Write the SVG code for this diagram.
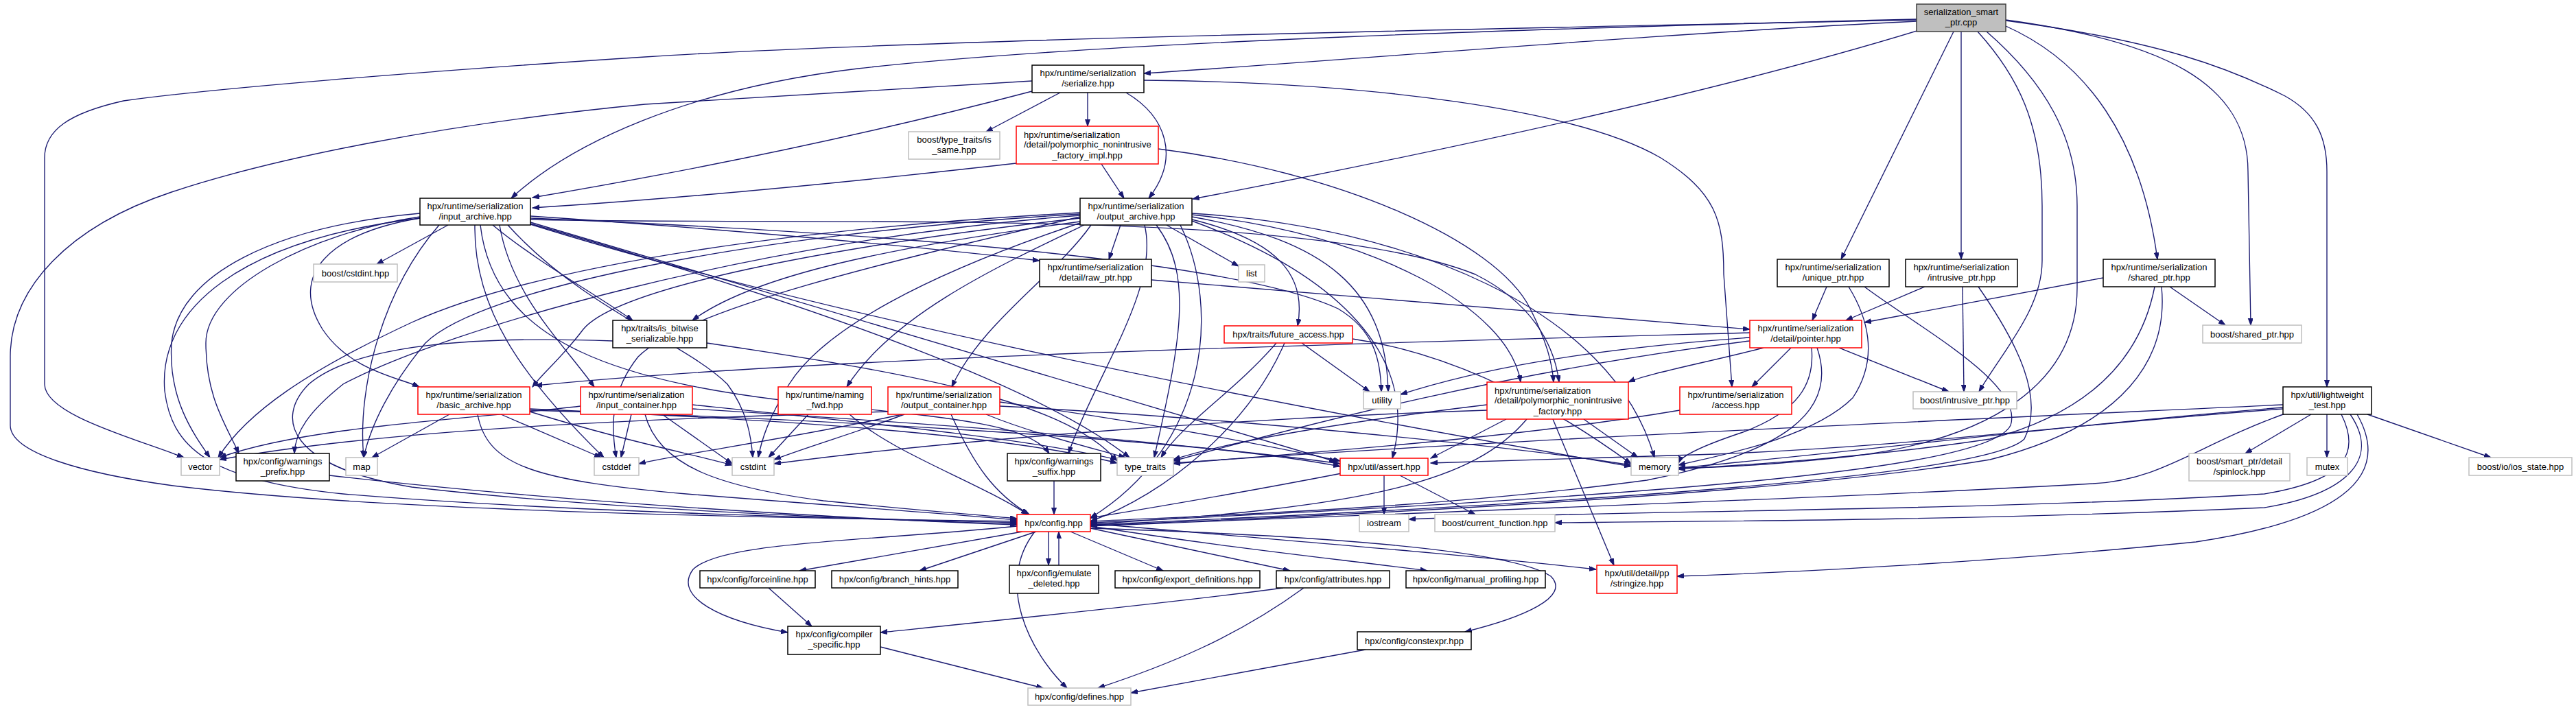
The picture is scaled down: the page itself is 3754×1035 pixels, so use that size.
<svg xmlns="http://www.w3.org/2000/svg" width="3754" height="1035" viewBox="0 0 3754 1035">
<style>
.n rect{fill:#fff;stroke:#000;stroke-width:1.5}
.r rect{stroke:#ff0000}
.g rect{stroke:#bfbfbf}
.root rect{fill:#bfbfbf;stroke:#404040}
text{font-family:"Liberation Sans",Arial,Helvetica,sans-serif;font-size:13px;text-anchor:middle;fill:#000}
text.l{text-anchor:start}
#edges path{fill:none;stroke:#191970;stroke-width:1.35;marker-end:url(#a)}
</style>
<defs>
<marker id="a" markerWidth="11" markerHeight="8" refX="10" refY="3.5" orient="auto" markerUnits="userSpaceOnUse">
<path d="M0,0 L10,3.5 L0,7 z" fill="#191970" stroke="#191970" stroke-width="1"/>
</marker>
</defs>
<rect width="3754" height="1035" fill="#fff"/>
<g id="edges">
<path d="M2793,31 C2400,50 2000,85 1667,107"/>
<path d="M2793,28 C2300,40 1600,60 1250,100 C1000,130 830,210 745,289"/>
<path d="M2797,44 C2450,150 2000,240 1738,290"/>
<path d="M2793,29 C2000,45 1300,60 940,83 C600,105 300,130 180,147 C100,165 65,190 65,230 L65,560 C65,605 200,640 268,667"/>
<path d="M2847,46 L2683,378"/>
<path d="M2858,46 L2858,378"/>
<path d="M2923,38 C3040,90 3120,200 3144,378"/>
<path d="M2923,29 C3150,60 3276,120 3276,250 L3280,474"/>
<path d="M2923,30 C3150,60 3250,100 3330,140 C3375,165 3391,200 3391,250 L3391,564"/>
<path d="M2882,46 C2940,110 2976,180 2976,300 L2976,380 C2976,450 2920,510 2884,571"/>
<path d="M2895,46 C2980,120 3027,200 3027,300 L3027,420 C3027,560 2900,640 2700,665 C2560,680 2480,682 2446,682"/>
<path d="M1504,133 C1250,200 1000,250 776,288"/>
<path d="M1585,135 L1585,184"/>
<path d="M1545,135 L1437,192"/>
<path d="M1641,135 C1700,170 1720,230 1674,289"/>
<path d="M1667,117 C2000,120 2300,160 2420,230 C2500,280 2512,320 2512,400 L2524,564"/>
<path d="M1504,118 L940,152 C650,180 400,230 250,280 C100,330 15,420 15,520 L15,620 C15,660 120,690 252,708 C500,738 900,752 1482,760"/>
<path d="M1481,238 C1200,270 950,292 776,303"/>
<path d="M1605,239 L1638,289"/>
<path d="M1688,217 C1950,250 2180,350 2230,450 C2255,500 2262,530 2264,557"/>
<path d="M653,328 L549,385"/>
<path d="M773,315 C1000,330 1300,355 1515,380"/>
<path d="M718,328 C780,380 870,430 922,467"/>
<path d="M612,318 C480,340 420,400 470,480 C510,540 580,550 611,564"/>
<path d="M728,328 C745,430 820,500 866,564"/>
<path d="M773,320 C1200,330 1900,300 2150,400 C2230,440 2265,500 2272,557"/>
<path d="M612,311 C400,330 260,400 250,500 C245,580 280,630 306,667"/>
<path d="M640,328 C560,420 520,560 530,667"/>
<path d="M612,316 C450,340 300,420 300,500 C300,580 330,620 348,661"/>
<path d="M700,328 C720,500 900,560 1200,590 C1400,610 1500,620 1529,661"/>
<path d="M692,328 C690,450 760,550 880,667"/>
<path d="M740,328 C850,450 1000,500 1060,560 C1090,600 1095,640 1097,667"/>
<path d="M773,326 C1100,420 1500,550 1646,667"/>
<path d="M773,318 C1300,340 1800,380 1950,450 C2000,480 2012,520 2013,571"/>
<path d="M773,324 C1200,450 1700,600 1947,673"/>
<path d="M773,327 C1200,460 1800,580 2377,680"/>
<path d="M612,318 C350,350 230,450 240,570 C250,650 300,700 500,720 C800,745 1200,755 1482,762"/>
<path d="M1633,328 L1616,378"/>
<path d="M1700,328 L1805,388"/>
<path d="M1737,320 C1860,350 1905,400 1891,475"/>
<path d="M1574,323 C1300,360 1100,400 1009,467"/>
<path d="M1574,318 C1200,360 900,420 850,480 C820,520 790,545 776,564"/>
<path d="M1590,328 C1540,400 1430,470 1387,564"/>
<path d="M1580,328 C1450,390 1300,460 1234,564"/>
<path d="M1737,313 C2000,340 2200,450 2216,557"/>
<path d="M1737,316 C1930,350 2020,420 2023,571"/>
<path d="M1737,322 C1950,400 2070,520 2029,668"/>
<path d="M1737,311 C2050,330 2350,450 2411,667"/>
<path d="M1685,328 C1740,400 1720,500 1682,667"/>
<path d="M1668,328 C1690,420 1600,540 1557,661"/>
<path d="M1720,328 C1780,450 1760,650 1589,755"/>
<path d="M1574,310 C1200,330 800,380 600,470 C450,540 360,600 318,667"/>
<path d="M1574,312 C1100,340 700,420 620,500 C570,560 540,620 530,667"/>
<path d="M1574,314 C1100,350 650,480 500,560 C450,600 430,630 429,661"/>
<path d="M1574,316 C1300,380 1000,450 930,520 C890,570 890,620 898,667"/>
<path d="M1574,325 C1350,400 1200,480 1150,560 C1120,610 1110,640 1105,667"/>
<path d="M1678,408 L2550,480"/>
<path d="M1030,500 C1300,540 1550,580 1628,672"/>
<path d="M893,497 C700,490 520,500 450,560 C400,610 420,680 600,710 C900,745 1300,758 1482,764"/>
<path d="M1897,500 L1996,571"/>
<path d="M1860,500 C1800,570 1720,620 1692,667"/>
<path d="M1872,500 C1820,620 1700,720 1589,760"/>
<path d="M1971,494 C2150,520 2300,620 2377,676"/>
<path d="M655,604 L542,667"/>
<path d="M730,604 L876,667"/>
<path d="M772,600 C900,640 1000,660 1067,678"/>
<path d="M772,596 C1100,610 1450,630 1628,675"/>
<path d="M772,598 C1200,610 1700,640 1953,676"/>
<path d="M696,604 C710,680 780,700 1000,720 C1250,740 1400,750 1482,758"/>
<path d="M920,604 L905,667"/>
<path d="M965,604 L1067,676"/>
<path d="M846,592 C700,610 450,620 320,667"/>
<path d="M940,604 C960,680 1050,710 1200,730 C1350,745 1420,750 1482,756"/>
<path d="M1009,590 C1300,620 1500,640 1628,670"/>
<path d="M1009,596 C1400,620 1800,650 1953,680"/>
<path d="M1178,604 L1120,667"/>
<path d="M1238,604 C1300,660 1420,700 1498,750"/>
<path d="M1318,604 C1250,630 1180,650 1128,670"/>
<path d="M1315,604 C1150,640 1000,660 931,676"/>
<path d="M1294,600 C1000,610 600,620 320,670"/>
<path d="M1386,604 C1420,680 1450,720 1500,750"/>
<path d="M1437,604 C1500,630 1580,650 1640,667"/>
<path d="M1457,586 C1700,620 1850,650 1953,672"/>
<path d="M1457,592 C1800,610 2200,650 2377,678"/>
<path d="M2570,507 C2480,530 2400,545 2373,557"/>
<path d="M2610,507 L2553,564"/>
<path d="M2680,507 L2840,571"/>
<path d="M2640,507 C2645,560 2620,600 2540,630 C2480,650 2450,665 2446,675"/>
<path d="M2648,507 C2680,600 2600,660 2400,700 C2100,740 1800,750 1589,760"/>
<path d="M2550,492 C2300,510 2150,540 2041,575"/>
<path d="M2550,485 C2000,500 1200,520 780,562"/>
<path d="M2550,497 C2200,540 1900,620 1710,672"/>
<path d="M2195,611 L2085,668"/>
<path d="M2308,611 L2387,667"/>
<path d="M2263,611 L2352,824"/>
<path d="M2225,611 C2150,700 2000,740 1589,764"/>
<path d="M2167,590 C2000,610 1800,640 1710,670"/>
<path d="M2167,598 C1800,610 1400,640 1128,676"/>
<path d="M2448,598 C2200,640 1900,660 1710,676"/>
<path d="M2662,418 L2641,467"/>
<path d="M2694,418 C2720,460 2740,520 2700,580 C2640,640 2500,665 2446,678"/>
<path d="M2717,418 C2800,480 2950,560 2930,620 C2900,680 2500,720 1589,762"/>
<path d="M2805,418 L2690,467"/>
<path d="M2860,418 L2862,571"/>
<path d="M2883,418 C2940,500 2980,580 2950,640 C2900,690 2400,730 1589,765"/>
<path d="M3065,405 L2717,470"/>
<path d="M3162,418 L3243,474"/>
<path d="M3140,418 C3120,520 3050,600 2900,640 C2700,670 2500,680 2446,684"/>
<path d="M3150,418 C3160,520 3100,620 2900,670 C2600,720 2000,750 1589,766"/>
<path d="M3368,604 L3272,661"/>
<path d="M3391,604 L3391,667"/>
<path d="M3450,604 L3630,667"/>
<path d="M3327,590 C2900,610 2200,640 1710,675"/>
<path d="M3327,594 C3000,620 2700,660 2446,682"/>
<path d="M3327,596 C3000,620 2800,650 2500,662 C2300,668 2150,672 2085,675"/>
<path d="M3330,603 C3200,650 3150,700 3050,705 C2700,725 2000,750 1589,767"/>
<path d="M3412,604 C3440,660 3420,700 3300,720 C2900,745 2300,745 2053,757"/>
<path d="M3425,604 C3470,670 3420,720 3300,740 C2900,758 2500,760 2266,762"/>
<path d="M3435,604 C3490,700 3400,760 3200,790 C2900,820 2600,835 2444,840"/>
<path d="M2017,693 L2017,750"/>
<path d="M2040,693 L2150,750"/>
<path d="M1955,690 C1800,720 1650,745 1589,755"/>
<path d="M480,693 C800,730 1200,755 1482,765"/>
<path d="M1536,701 L1536,750"/>
<path d="M1490,775 L1165,832"/>
<path d="M1510,775 L1340,832"/>
<path d="M1528,775 L1528,824"/>
<path d="M1543,824 L1543,775"/>
<path d="M1560,775 L1695,832"/>
<path d="M1589,770 L1880,832"/>
<path d="M1589,767 C1800,800 1950,815 2080,832"/>
<path d="M1589,763 C1900,790 2150,810 2326,830"/>
<path d="M1482,767 C1250,790 1050,790 1010,830 C980,870 1050,905 1148,922"/>
<path d="M1508,775 C1450,850 1500,950 1555,1003"/>
<path d="M1589,770 C1900,780 2200,800 2260,840 C2290,870 2220,900 2135,921"/>
<path d="M1120,857 L1183,913"/>
<path d="M1870,857 C1700,880 1400,910 1283,922"/>
<path d="M1900,857 C1800,930 1700,970 1600,1003"/>
<path d="M1283,943 L1520,1003"/>
<path d="M1990,947 L1648,1010"/>
</g>
<g id="n_root" class="n root"><rect x="2793" y="6" width="130" height="40"/><text x="2858" y="22">serialization_smart</text><text x="2858" y="36.5">_ptr.cpp</text></g>
<g id="n_serialize" class="n"><rect x="1504" y="95" width="163" height="40"/><text x="1585.5" y="111">hpx/runtime/serialization</text><text x="1585.5" y="125.5">/serialize.hpp</text></g>
<g id="n_is_same" class="n g"><rect x="1324" y="192" width="133" height="40"/><text x="1390.5" y="208">boost/type_traits/is</text><text x="1390.5" y="222.5">_same.hpp</text></g>
<g id="n_pnf_impl" class="n r"><rect x="1481" y="184" width="207" height="55"/><text class="l" x="1492" y="201">hpx/runtime/serialization</text><text class="l" x="1492" y="215">/detail/polymorphic_nonintrusive</text><text x="1584.5" y="230.5">_factory_impl.hpp</text></g>
<g id="n_input_archive" class="n"><rect x="612" y="289" width="161" height="39"/><text x="692.5" y="305">hpx/runtime/serialization</text><text x="692.5" y="319.5">/input_archive.hpp</text></g>
<g id="n_output_archive" class="n"><rect x="1574" y="289" width="163" height="39"/><text x="1655.5" y="305">hpx/runtime/serialization</text><text x="1655.5" y="319.5">/output_archive.hpp</text></g>
<g id="n_boost_cstdint" class="n g"><rect x="457" y="385" width="122" height="26"/><text x="518" y="402.5">boost/cstdint.hpp</text></g>
<g id="n_raw_ptr" class="n"><rect x="1515" y="378" width="163" height="40"/><text x="1596.5" y="394">hpx/runtime/serialization</text><text x="1596.5" y="408.5">/detail/raw_ptr.hpp</text></g>
<g id="n_list" class="n g"><rect x="1805" y="386" width="38" height="25"/><text x="1824" y="403">list</text></g>
<g id="n_unique_ptr" class="n"><rect x="2590" y="378" width="163" height="40"/><text x="2671.5" y="394">hpx/runtime/serialization</text><text x="2671.5" y="408.5">/unique_ptr.hpp</text></g>
<g id="n_intrusive_ptr" class="n"><rect x="2777" y="378" width="163" height="40"/><text x="2858.5" y="394">hpx/runtime/serialization</text><text x="2858.5" y="408.5">/intrusive_ptr.hpp</text></g>
<g id="n_shared_ptr" class="n"><rect x="3065" y="378" width="163" height="40"/><text x="3146.5" y="394">hpx/runtime/serialization</text><text x="3146.5" y="408.5">/shared_ptr.hpp</text></g>
<g id="n_is_bitwise" class="n"><rect x="893" y="467" width="137" height="40"/><text x="961.5" y="483">hpx/traits/is_bitwise</text><text x="961.5" y="497.5">_serializable.hpp</text></g>
<g id="n_future_access" class="n r"><rect x="1784" y="475" width="187" height="25"/><text x="1877.5" y="492">hpx/traits/future_access.hpp</text></g>
<g id="n_pointer" class="n r"><rect x="2550" y="467" width="163" height="40"/><text x="2631.5" y="483">hpx/runtime/serialization</text><text x="2631.5" y="497.5">/detail/pointer.hpp</text></g>
<g id="n_boost_shared_ptr" class="n g"><rect x="3210" y="474" width="144" height="26"/><text x="3282" y="491.5">boost/shared_ptr.hpp</text></g>
<g id="n_basic_archive" class="n r"><rect x="609" y="564" width="163" height="40"/><text x="690.5" y="580">hpx/runtime/serialization</text><text x="690.5" y="594.5">/basic_archive.hpp</text></g>
<g id="n_input_container" class="n r"><rect x="846" y="564" width="163" height="40"/><text x="927.5" y="580">hpx/runtime/serialization</text><text x="927.5" y="594.5">/input_container.hpp</text></g>
<g id="n_naming_fwd" class="n r"><rect x="1134" y="564" width="136" height="40"/><text x="1202" y="580">hpx/runtime/naming</text><text x="1202" y="594.5">_fwd.hpp</text></g>
<g id="n_output_container" class="n r"><rect x="1294" y="564" width="163" height="40"/><text x="1375.5" y="580">hpx/runtime/serialization</text><text x="1375.5" y="594.5">/output_container.hpp</text></g>
<g id="n_utility" class="n g"><rect x="1987" y="571" width="54" height="25"/><text x="2014" y="588">utility</text></g>
<g id="n_pnf" class="n r"><rect x="2167" y="557" width="206" height="54"/><text class="l" x="2178" y="574">hpx/runtime/serialization</text><text class="l" x="2178" y="588">/detail/polymorphic_nonintrusive</text><text x="2270" y="603.5">_factory.hpp</text></g>
<g id="n_access" class="n r"><rect x="2448" y="564" width="163" height="40"/><text x="2529.5" y="580">hpx/runtime/serialization</text><text x="2529.5" y="594.5">/access.hpp</text></g>
<g id="n_boost_intrusive_ptr" class="n g"><rect x="2788" y="571" width="151" height="25"/><text x="2863.5" y="588">boost/intrusive_ptr.hpp</text></g>
<g id="n_lightweight_test" class="n"><rect x="3327" y="564" width="129" height="40"/><text x="3391.5" y="580">hpx/util/lightweight</text><text x="3391.5" y="594.5">_test.hpp</text></g>
<g id="n_vector" class="n g"><rect x="264" y="667" width="56" height="26"/><text x="292" y="684.5">vector</text></g>
<g id="n_warnings_prefix" class="n"><rect x="344" y="661" width="136" height="40"/><text x="412" y="677">hpx/config/warnings</text><text x="412" y="691.5">_prefix.hpp</text></g>
<g id="n_map" class="n g"><rect x="504" y="667" width="46" height="26"/><text x="527" y="684.5">map</text></g>
<g id="n_cstddef" class="n g"><rect x="866" y="667" width="65" height="26"/><text x="898.5" y="684.5">cstddef</text></g>
<g id="n_cstdint" class="n g"><rect x="1067" y="667" width="61" height="26"/><text x="1097.5" y="684.5">cstdint</text></g>
<g id="n_warnings_suffix" class="n"><rect x="1468" y="661" width="136" height="40"/><text x="1536" y="677">hpx/config/warnings</text><text x="1536" y="691.5">_suffix.hpp</text></g>
<g id="n_type_traits" class="n g"><rect x="1628" y="667" width="82" height="26"/><text x="1669" y="684.5">type_traits</text></g>
<g id="n_assert" class="n r"><rect x="1953" y="668" width="128" height="25"/><text x="2017" y="685">hpx/util/assert.hpp</text></g>
<g id="n_memory" class="n g"><rect x="2377" y="667" width="69" height="26"/><text x="2411.5" y="684.5">memory</text></g>
<g id="n_spinlock" class="n g"><rect x="3190" y="661" width="147" height="40"/><text x="3263.5" y="677">boost/smart_ptr/detail</text><text x="3263.5" y="691.5">/spinlock.hpp</text></g>
<g id="n_mutex" class="n g"><rect x="3362" y="667" width="59" height="26"/><text x="3391.5" y="684.5">mutex</text></g>
<g id="n_ios_state" class="n g"><rect x="3598" y="667" width="150" height="26"/><text x="3673" y="684.5">boost/io/ios_state.hpp</text></g>
<g id="n_config" class="n r"><rect x="1482" y="750" width="107" height="25"/><text x="1535.5" y="767">hpx/config.hpp</text></g>
<g id="n_iostream" class="n g"><rect x="1981" y="750" width="72" height="25"/><text x="2017" y="767">iostream</text></g>
<g id="n_current_function" class="n g"><rect x="2091" y="750" width="175" height="25"/><text x="2178.5" y="767">boost/current_function.hpp</text></g>
<g id="n_forceinline" class="n"><rect x="1020" y="832" width="168" height="25"/><text x="1104" y="849">hpx/config/forceinline.hpp</text></g>
<g id="n_branch_hints" class="n"><rect x="1212" y="832" width="184" height="25"/><text x="1304" y="849">hpx/config/branch_hints.hpp</text></g>
<g id="n_emulate_deleted" class="n"><rect x="1471" y="824" width="130" height="41"/><text x="1536" y="840">hpx/config/emulate</text><text x="1536" y="854.5">_deleted.hpp</text></g>
<g id="n_export_definitions" class="n"><rect x="1625" y="832" width="211" height="25"/><text x="1730.5" y="849">hpx/config/export_definitions.hpp</text></g>
<g id="n_attributes" class="n"><rect x="1860" y="832" width="165" height="25"/><text x="1942.5" y="849">hpx/config/attributes.hpp</text></g>
<g id="n_manual_profiling" class="n"><rect x="2049" y="832" width="203" height="25"/><text x="2150.5" y="849">hpx/config/manual_profiling.hpp</text></g>
<g id="n_stringize" class="n r"><rect x="2327" y="824" width="117" height="41"/><text x="2385.5" y="840">hpx/util/detail/pp</text><text x="2385.5" y="854.5">/stringize.hpp</text></g>
<g id="n_compiler_specific" class="n"><rect x="1148" y="913" width="135" height="41"/><text x="1215.5" y="929">hpx/config/compiler</text><text x="1215.5" y="943.5">_specific.hpp</text></g>
<g id="n_constexpr" class="n"><rect x="1978" y="921" width="166" height="26"/><text x="2061" y="938.5">hpx/config/constexpr.hpp</text></g>
<g id="n_defines" class="n g"><rect x="1498" y="1003" width="150" height="25"/><text x="1573" y="1020">hpx/config/defines.hpp</text></g>
</svg>
